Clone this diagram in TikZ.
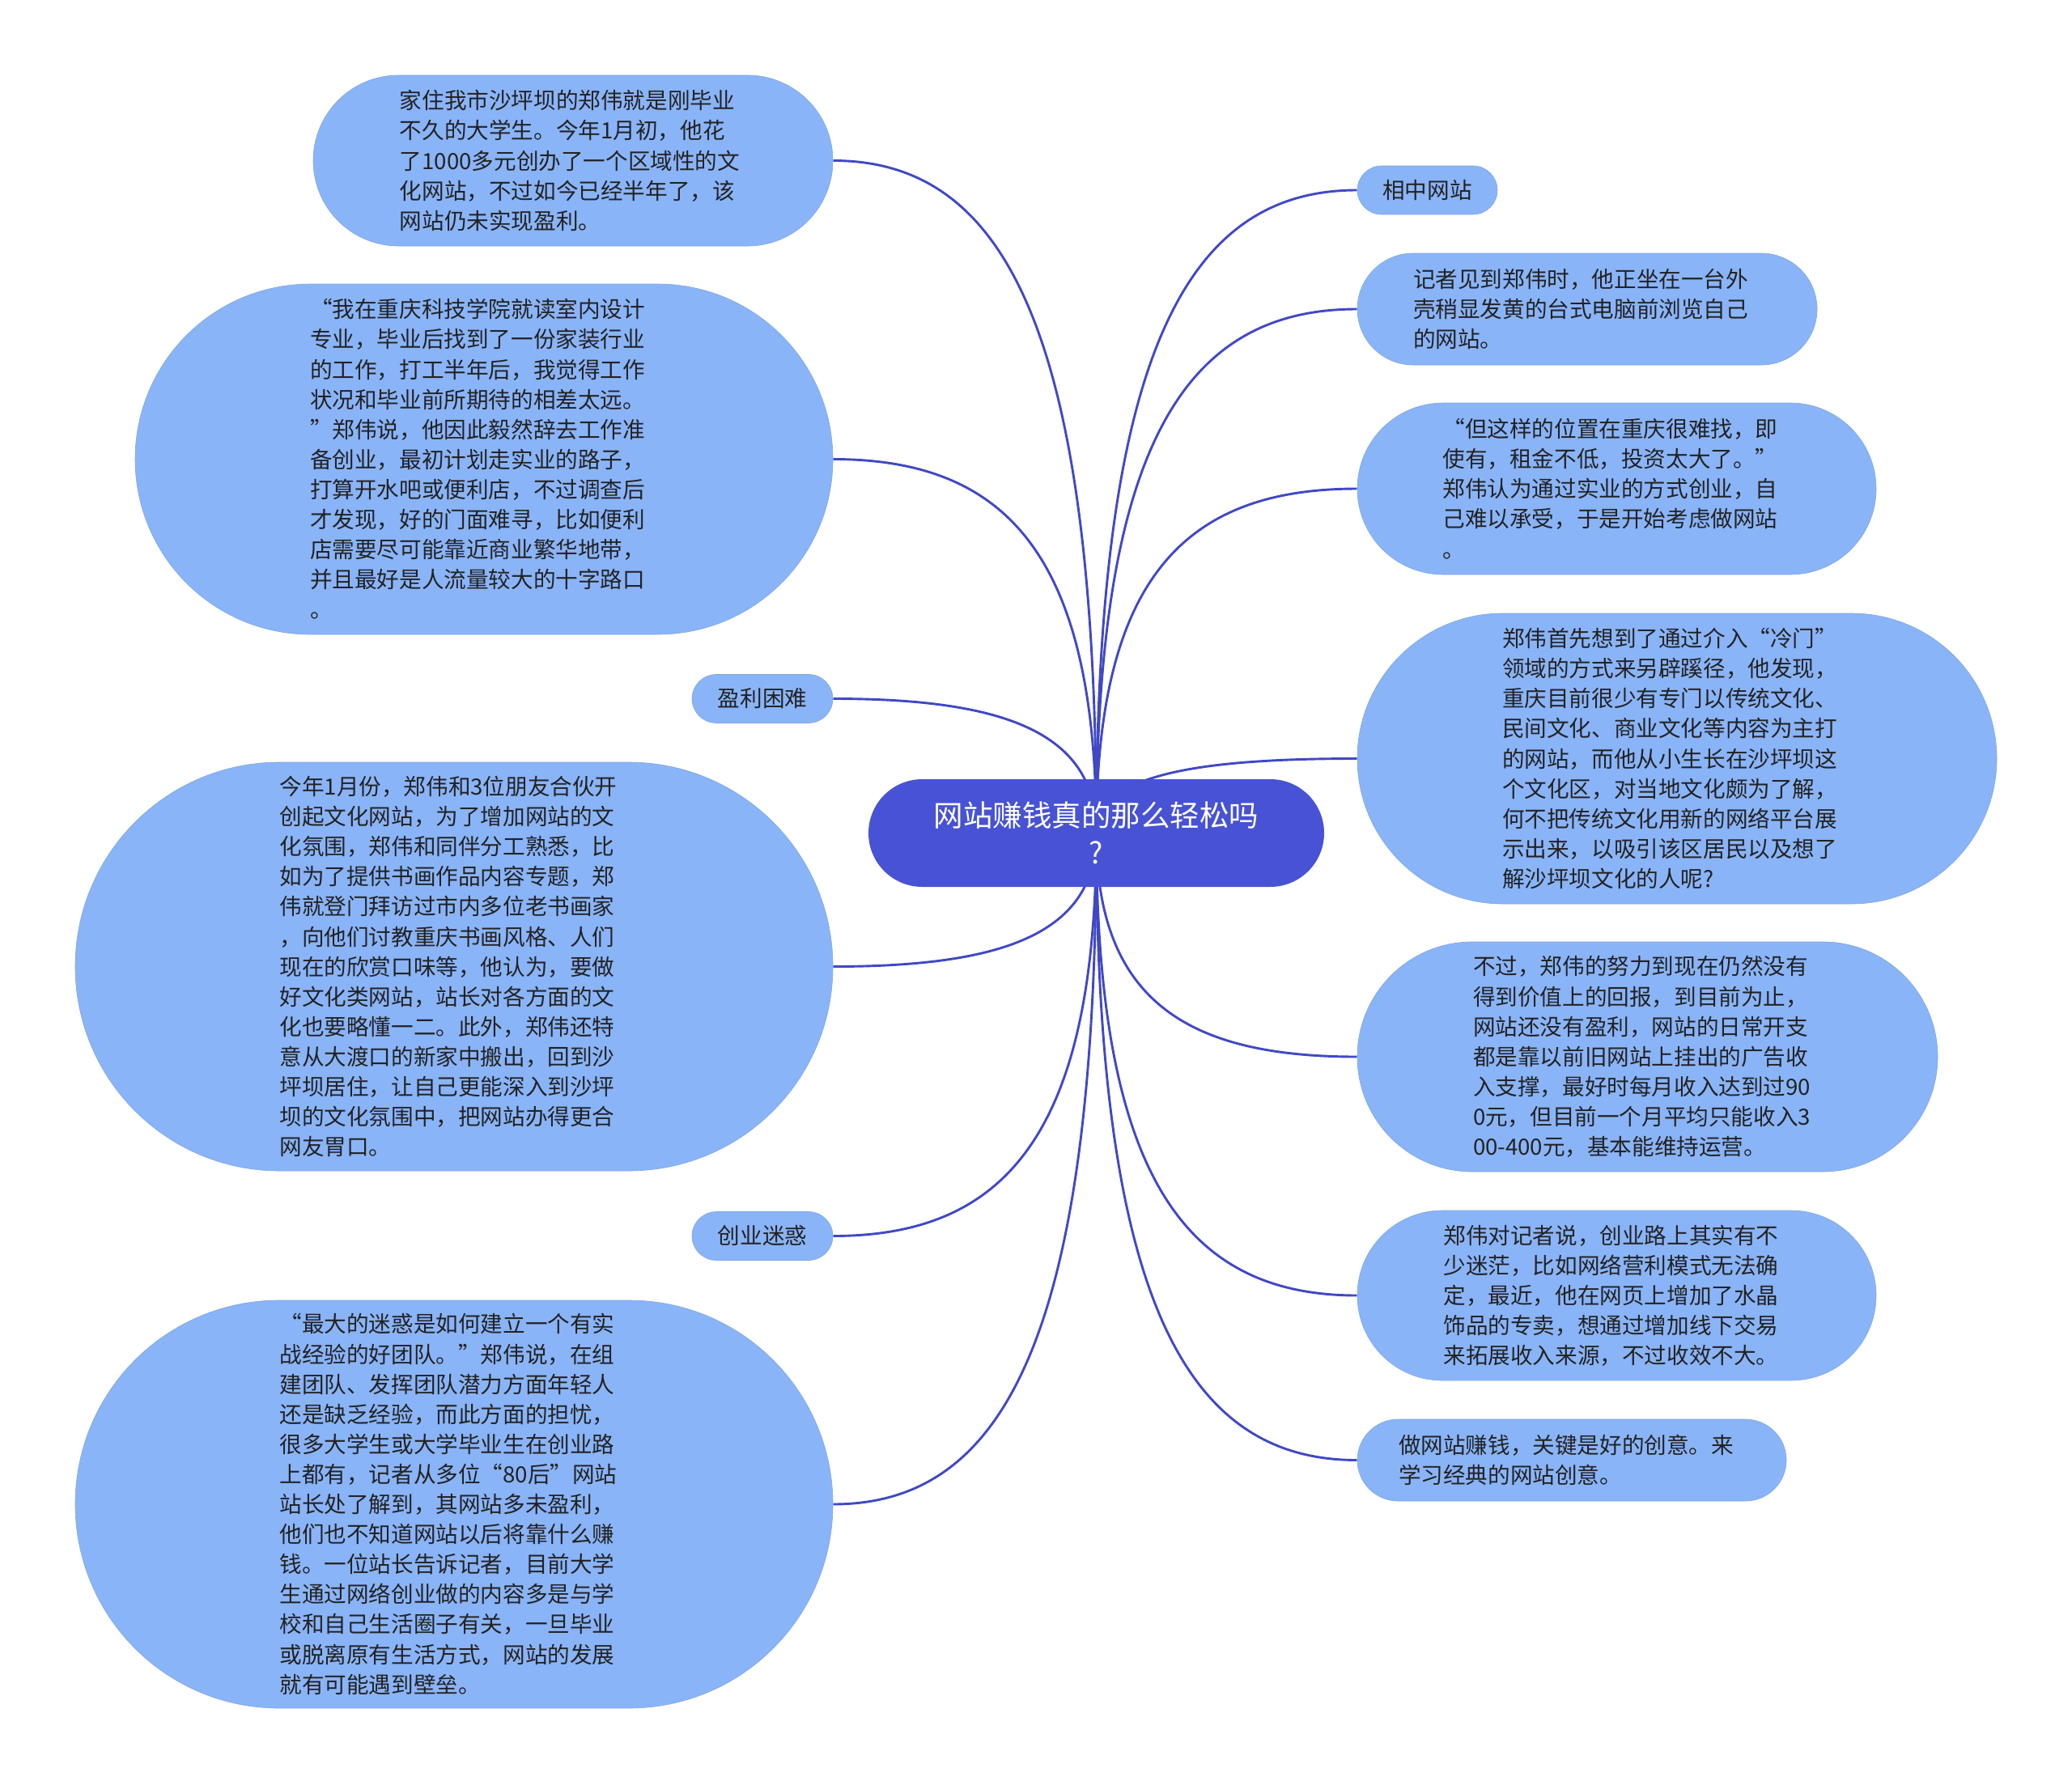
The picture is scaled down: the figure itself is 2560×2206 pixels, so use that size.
\documentclass[tikz,border=0pt]{standalone}
\usepackage{fontspec}
\setmainfont{Noto Sans CJK SC}
\usetikzlibrary{calc,backgrounds}
\definecolor{leafc}{HTML}{8AB4F8}
\definecolor{rootc}{HTML}{4752D4}
\definecolor{edgec}{HTML}{4048C6}
\definecolor{txtc}{HTML}{222222}
\tikzset{
  leaf/.style 2 args={fill=leafc, draw=leafc!92!black, line width=0.6pt,
    minimum width=#1, minimum height=#2, rounded corners=#2*0.5,
    inner sep=6pt, align=center, text=txtc,
    font=\fontsize{27.6}{37.1}\selectfont},
  ltxt/.style={inner sep=0pt, align=left, text=txtc,
    font=\fontsize{27.6}{37.1}\selectfont},
  rootbox/.style={fill=rootc, minimum width=563, minimum height=133,
    rounded corners=66.5, inner sep=6pt, align=center, text=white,
    font=\fontsize{36.5}{45.7}\selectfont},
  link/.style={draw=edgec, line width=2.9pt,
    to path={.. controls ($(\tikztostart)!0.75!(\tikztostart |- \tikztotarget)$)
      and ($(\tikztotarget)!0.65!(\tikztostart |- \tikztotarget)$) .. (\tikztotarget)}}
}
\begin{document}
\begin{tikzpicture}[x=1pt,y=-1pt]
\useasboundingbox (0,0) rectangle (2560,2206);
% root
\node[rootbox] (c) at (1354.5,1029.5) {网站赚钱真的那么轻松吗\\?};
% left leaves
\node[leaf={642}{211}] (n1) at (708,198.5) {};
\node[ltxt] (t1) at ([xshift=-4pt]n1.center) {家住我市沙坪坝的郑伟就是刚毕业\\不久的大学生。今年1月初，他花\\了1000多元创办了一个区域性的文\\化网站，不过如今已经半年了，该\\网站仍未实现盈利。};
\node[leaf={862}{433}] (n2) at (598,567.5) {};
\node[ltxt] (t2) at ([xshift=-8pt]n2.center) {“我在重庆科技学院就读室内设计\\专业，毕业后找到了一份家装行业\\的工作，打工半年后，我觉得工作\\状况和毕业前所期待的相差太远。\\”郑伟说，他因此毅然辞去工作准\\备创业，最初计划走实业的路子，\\打算开水吧或便利店，不过调查后\\才发现，好的门面难寻，比如便利\\店需要尽可能靠近商业繁华地带，\\并且最好是人流量较大的十字路口\\。};
\node[leaf={174}{60}] (n3) at (942,863.5) {盈利困难};
\node[leaf={936}{505}] (n4) at (561,1194.5) {};
\node[ltxt] (t4) at ([xshift=-7pt]n4.center) {今年1月份，郑伟和3位朋友合伙开\\创起文化网站，为了增加网站的文\\化氛围，郑伟和同伴分工熟悉，比\\如为了提供书画作品内容专题，郑\\伟就登门拜访过市内多位老书画家\\，向他们讨教重庆书画风格、人们\\现在的欣赏口味等，他认为，要做\\好文化类网站，站长对各方面的文\\化也要略懂一二。此外，郑伟还特\\意从大渡口的新家中搬出，回到沙\\坪坝居住，让自己更能深入到沙坪\\坝的文化氛围中，把网站办得更合\\网友胃口。};
\node[leaf={174}{60}] (n5) at (942,1527.5) {创业迷惑};
\node[leaf={936}{504}] (n6) at (561,1859) {};
\node[ltxt] (t6) at ([xshift=-7pt]n6.center) {“最大的迷惑是如何建立一个有实\\战经验的好团队。”郑伟说，在组\\建团队、发挥团队潜力方面年轻人\\还是缺乏经验，而此方面的担忧，\\很多大学生或大学毕业生在创业路\\上都有，记者从多位“80后”网站\\站长处了解到，其网站多未盈利，\\他们也不知道网站以后将靠什么赚\\钱。一位站长告诉记者，目前大学\\生通过网络创业做的内容多是与学\\校和自己生活圈子有关，一旦毕业\\或脱离原有生活方式，网站的发展\\就有可能遇到壁垒。};
% right leaves
\node[leaf={173}{60}] (r1) at (1763.5,235) {相中网站};
\node[leaf={568}{138}] (r2) at (1961,382) {};
\node[ltxt] (s2) at ([xshift=-8pt]r2.center) {记者见到郑伟时，他正坐在一台外\\壳稍显发黄的台式电脑前浏览自己\\的网站。};
\node[leaf={641}{212}] (r3) at (1997.5,604) {};
\node[ltxt] (s3) at ([xshift=-8pt]r3.center) {“但这样的位置在重庆很难找，即\\使有，租金不低，投资太大了。”\\郑伟认为通过实业的方式创业，自\\己难以承受，于是开始考虑做网站\\。};
\node[leaf={790}{359}] (r4) at (2072,937.5) {};
\node[ltxt] (s4) at ([xshift=-9pt]r4.center) {郑伟首先想到了通过介入“冷门”\\领域的方式来另辟蹊径，他发现，\\重庆目前很少有专门以传统文化、\\民间文化、商业文化等内容为主打\\的网站，而他从小生长在沙坪坝这\\个文化区，对当地文化颇为了解，\\何不把传统文化用新的网络平台展\\示出来，以吸引该区居民以及想了\\解沙坪坝文化的人呢?};
\node[leaf={717}{284}] (r5) at (2035.5,1306) {};
\node[ltxt] (s5) at ([xshift=-7pt]r5.center) {不过，郑伟的努力到现在仍然没有\\得到价值上的回报，到目前为止，\\网站还没有盈利，网站的日常开支\\都是靠以前旧网站上挂出的广告收\\入支撑，最好时每月收入达到过90\\0元，但目前一个月平均只能收入3\\00-400元，基本能维持运营。};
\node[leaf={641}{210}] (r6) at (1997.5,1601) {};
\node[ltxt] (s6) at ([xshift=-7pt]r6.center) {郑伟对记者说，创业路上其实有不\\少迷茫，比如网络营利模式无法确\\定，最近，他在网页上增加了水晶\\饰品的专卖，想通过增加线下交易\\来拓展收入来源，不过收效不大。};
\node[leaf={530}{101}] (r7) at (1942,1804.5) {};
\node[ltxt] (s7) at ([xshift=-7pt]r7.center) {做网站赚钱，关键是好的创意。来\\学习经典的网站创意。};
% connectors
\begin{scope}[on background layer]
\fill[white] (0,0) rectangle (2560,2206);
\foreach \t in {n1,n2,n3,n4,n5,n6}
  \draw[link] (c.center) to (\t.east);
\foreach \t in {r1,r2,r3,r4,r5,r6,r7}
  \draw[link] (c.center) to (\t.west);
\end{scope}
\end{tikzpicture}
\end{document}
